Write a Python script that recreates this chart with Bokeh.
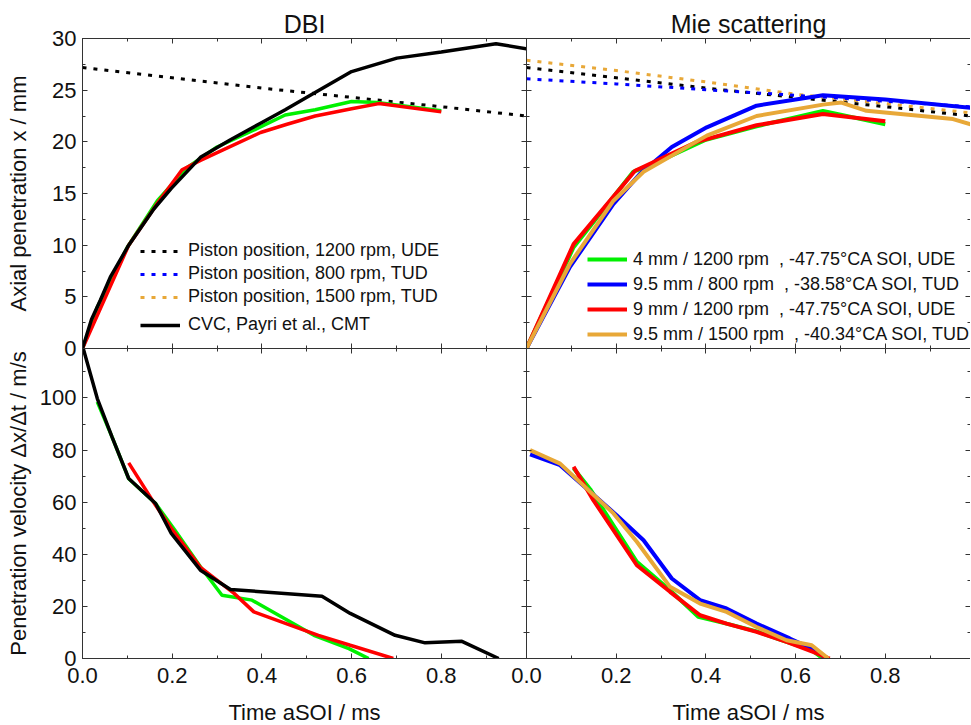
from bokeh.plotting import figure
from bokeh.models import (LinearAxis, SingleIntervalTicker, Legend, LegendItem,
                          Range1d, CustomJSTickFormatter, NumeralTickFormatter)
from bokeh.layouts import row, column
from bokeh.embed import file_html
from bokeh.resources import INLINE

FONT = "Liberation Sans"
AX = "#333333"
TXT = "#111111"
GREEN = "#00F000"
BLUE = "#0000FF"
RED = "#FF0000"
ORANGE = "#E8A838"
BLACK = "#000000"

# ---------------- data ----------------
X_END = 0.99
Y_PEN_END = 30
Y_VEL_END = 119

# piston positions (shared)
pist_1200_t = [0, 0.2, 0.4, 0.6, 0.8, 0.99]
pist_1200_x = [27.2, 26.2, 25.2, 24.3, 23.4, 22.5]
pist_800_t = [0, 0.2, 0.417, 0.6, 0.99]
pist_800_x = [26.1, 25.6, 25.0, 24.5, 23.4]
pist_1500_t = [0, 0.2, 0.4, 0.6, 0.8, 0.99]
pist_1500_x = [27.9, 26.9, 25.8, 24.6, 23.7, 22.8]

# DBI penetration
dbi_cvc_t = [0, 0.02, 0.04, 0.062, 0.103, 0.159, 0.198, 0.263, 0.33, 0.397, 0.452, 0.508, 0.6, 0.701, 0.8, 0.922, 0.99]
dbi_cvc_x = [0, 2.8, 4.7, 6.9, 10.0, 13.5, 15.5, 18.5, 20.2, 21.8, 23.1, 24.5, 26.8, 28.1, 28.7, 29.5, 29.0]
dbi_g_t = [0, 0.033, 0.1, 0.167, 0.233, 0.3, 0.38, 0.452, 0.519, 0.6, 0.657, 0.8]
dbi_g_x = [0, 4.0, 9.8, 14.3, 17.5, 19.5, 21.1, 22.6, 23.1, 23.9, 23.8, 23.0]
dbi_r_t = [0, 0.103, 0.163, 0.222, 0.263, 0.397, 0.456, 0.519, 0.6, 0.661, 0.8]
dbi_r_x = [0, 10.0, 13.8, 17.3, 18.2, 20.9, 21.7, 22.5, 23.2, 23.7, 22.9]

# DBI velocity
dbiv_cvc_t = [0, 0.033, 0.066, 0.103, 0.163, 0.198, 0.263, 0.33, 0.534, 0.597, 0.697, 0.764, 0.846, 0.928]
dbiv_cvc_v = [120, 99.8, 85, 69.1, 59.5, 48, 33.9, 26.5, 23.9, 17.3, 8.9, 6.0, 6.6, 0]
dbiv_g_t = [0.033, 0.066, 0.103, 0.163, 0.205, 0.263, 0.311, 0.378, 0.516, 0.594, 0.638]
dbiv_g_v = [98.5, 85, 69.0, 59.5, 49.5, 35.2, 24.3, 22.4, 8.9, 3.8, 0]
dbiv_r_t = [0.103, 0.163, 0.198, 0.263, 0.338, 0.382, 0.526, 0.597, 0.693]
dbiv_r_v = [75.1, 58.8, 50, 35, 25, 17.9, 8.9, 5.1, 0]

# Mie penetration
mie_g_t = [0, 0.105, 0.238, 0.3, 0.4, 0.513, 0.661, 0.8]
mie_g_x = [0, 9.8, 17.1, 18.2, 20.2, 21.5, 23.0, 21.7]
mie_b_t = [0, 0.097, 0.194, 0.253, 0.324, 0.402, 0.513, 0.661, 0.8, 0.99]
mie_b_x = [0, 7.9, 14.0, 16.9, 19.5, 21.4, 23.5, 24.5, 24.1, 23.3]
mie_r_t = [0, 0.105, 0.242, 0.38, 0.513, 0.661, 0.8]
mie_r_x = [0, 10.1, 17.2, 20.0, 21.6, 22.7, 22.0]
mie_o_t = [0, 0.097, 0.194, 0.261, 0.402, 0.513, 0.661, 0.702, 0.758, 0.951, 0.99]
mie_o_x = [0, 8.2, 14.3, 17.1, 20.6, 22.5, 23.6, 23.8, 23.0, 22.2, 21.7]

# Mie velocity
miev_g_t = [0.105, 0.142, 0.246, 0.32, 0.383, 0.446, 0.513, 0.58, 0.636, 0.661]
miev_g_v = [73.0, 65.0, 37.1, 26.2, 16.0, 13.4, 10.4, 6.4, 3.2, 0]
miev_b_t = [0.008, 0.075, 0.142, 0.201, 0.261, 0.324, 0.387, 0.446, 0.513, 0.587, 0.636, 0.669]
miev_b_v = [78.4, 74.2, 64, 55.0, 45.4, 30.7, 22.4, 19.2, 13.4, 7.7, 3.8, 0]
miev_r_t = [0.105, 0.149, 0.246, 0.32, 0.387, 0.446, 0.513, 0.58, 0.639, 0.676]
miev_r_v = [73.6, 60.8, 35.8, 25.6, 16.6, 13.4, 10.2, 6.4, 2.5, 0]
miev_o_t = [0.008, 0.075, 0.142, 0.194, 0.246, 0.32, 0.387, 0.446, 0.513, 0.58, 0.636, 0.673]
miev_o_v = [80.0, 74.8, 64, 55.7, 44.8, 27.5, 21.1, 17.9, 12.1, 7.0, 5.1, 0]

legend_left = ["Piston position, 1200 rpm, UDE", "Piston position, 800 rpm, TUD",
               "Piston position, 1500 rpm, TUD", "CVC, Payri et al., CMT"]
legend_right = ["4 mm / 1200 rpm\u00a0\u00a0, -47.75\u00b0CA SOI, UDE",
                "9.5 mm / 800 rpm\u00a0\u00a0, -38.58\u00b0CA SOI, TUD",
                "9 mm / 1200 rpm\u00a0\u00a0, -47.75\u00b0CA SOI, UDE",
                "9.5 mm / 1500 rpm\u00a0\u00a0, -40.34\u00b0CA SOI, TUD"]

DOT = "4 7"
OVERLAP = 14


def ticks_in(ax):
    ax.major_tick_in = 5
    ax.major_tick_out = 0
    ax.minor_tick_in = 3
    ax.minor_tick_out = 0
    ax.axis_line_color = AX
    ax.major_tick_line_color = AX
    ax.minor_tick_line_color = AX


def blank(ax):
    ax.formatter = CustomJSTickFormatter(code="return ''")
    ax.major_label_text_font_size = "0px"
    ax.major_label_standoff = 0
    ax.axis_label = None


def labeled(ax, standoff):
    ax.major_label_text_font = FONT
    ax.major_label_text_font_size = "22px"
    ax.major_label_text_color = TXT
    ax.major_label_standoff = standoff


def make_fig(y_end, y_int, show_x, show_y, **kw):
    p = figure(frame_width=444, frame_height=310,
               x_range=Range1d(0, X_END), y_range=Range1d(0, y_end),
               output_backend="svg", toolbar_location=None, **kw)
    p.grid.visible = False
    p.outline_line_color = None
    p.background_fill_color = "white"
    xb = p.xaxis[0]
    yl = p.yaxis[0]
    xb.ticker = SingleIntervalTicker(interval=0.2, num_minor_ticks=2)
    yl.ticker = SingleIntervalTicker(interval=y_int, num_minor_ticks=2)
    xt = LinearAxis(ticker=SingleIntervalTicker(interval=0.2, num_minor_ticks=2))
    yr = LinearAxis(ticker=SingleIntervalTicker(interval=y_int, num_minor_ticks=2))
    p.add_layout(xt, "above")
    p.add_layout(yr, "right")
    for ax in (xb, yl, xt, yr):
        ticks_in(ax)
    blank(xt)
    blank(yr)
    if show_x:
        labeled(xb, 9)
        xb.formatter = NumeralTickFormatter(format="0.0")
        xb.axis_label = "Time aSOI / ms"
        xb.axis_label_text_font = FONT
        xb.axis_label_text_font_size = "22px"
        xb.axis_label_text_font_style = "normal"
        xb.axis_label_text_color = TXT
        xb.axis_label_standoff = 14
    else:
        blank(xb)
    if show_y:
        labeled(yl, 6)
        yl.axis_label_text_font = FONT
        yl.axis_label_text_font_size = "22px"
        yl.axis_label_text_font_style = "normal"
        yl.axis_label_text_color = TXT
    else:
        blank(yl)
    return p


def style_title(p, text):
    p.title.text = text
    p.title.align = "center"
    p.title.text_font = FONT
    p.title.text_font_size = "25px"
    p.title.text_font_style = "normal"
    p.title.text_color = TXT
    p.title.standoff = 2


def make_legend(items, loc, lh, sp, standoff):
    lg = Legend(items=items, location=loc)
    lg.label_text_font = FONT
    lg.label_text_font_size = "18px"
    lg.label_text_color = TXT
    lg.glyph_width = 40
    lg.glyph_height = lh
    lg.label_height = lh
    lg.spacing = sp
    lg.padding = 0
    lg.margin = 0
    lg.label_standoff = standoff
    lg.border_line_color = None
    lg.background_fill_alpha = 0
    lg.inactive_fill_alpha = 0
    return lg


# ---------------- top-left: DBI penetration ----------------
p1 = make_fig(Y_PEN_END, 5, False, True, min_border_left=82, min_border_right=0,
              min_border_top=38, min_border_bottom=OVERLAP)
p1.yaxis[0].axis_label = "Axial penetration x / mm"
p1.yaxis[0].axis_label_standoff = 18
style_title(p1, "DBI")

r_pb = p1.line(pist_1200_t, pist_1200_x, color=BLACK, line_width=3, line_dash=DOT)
# legend proxies: same piston data, hidden in this panel
r_pbl = p1.line(pist_800_t, pist_800_x, color=BLUE, line_width=3, line_dash=DOT, visible=False)
r_po = p1.line(pist_1500_t, pist_1500_x, color=ORANGE, line_width=3, line_dash=DOT, visible=False)
p1.line(dbi_g_t, dbi_g_x, color=GREEN, line_width=3.5)
p1.line(dbi_r_t, dbi_r_x, color=RED, line_width=3.5)
r_cvc = p1.line(dbi_cvc_t, dbi_cvc_x, color=BLACK, line_width=3.5)

leg1 = make_legend([LegendItem(label=legend_left[0], renderers=[r_pb]),
                    LegendItem(label=legend_left[1], renderers=[r_pbl]),
                    LegendItem(label=legend_left[2], renderers=[r_po])],
                   (58, 41), 20, 2, 8)
leg2 = make_legend([LegendItem(label=legend_left[3], renderers=[r_cvc])],
                   (58, 13), 20, 2, 8)
p1.add_layout(leg1, "center")
p1.add_layout(leg2, "center")

# ---------------- top-right: Mie penetration ----------------
p2 = make_fig(Y_PEN_END, 5, False, False, min_border_left=20, min_border_right=0,
              min_border_top=38, min_border_bottom=OVERLAP, margin=(0, 0, 0, -20))
p2.border_fill_color = None
style_title(p2, "Mie scattering")
p2.line(pist_1500_t, pist_1500_x, color=ORANGE, line_width=3, line_dash=DOT)
p2.line(pist_1200_t, pist_1200_x, color=BLACK, line_width=3, line_dash=DOT)
p2.line(pist_800_t, pist_800_x, color=BLUE, line_width=3, line_dash=DOT)
rg = p2.line(mie_g_t, mie_g_x, color=GREEN, line_width=4)
rb = p2.line(mie_b_t, mie_b_x, color=BLUE, line_width=4)
rr = p2.line(mie_r_t, mie_r_x, color=RED, line_width=4)
ro = p2.line(mie_o_t, mie_o_x, color=ORANGE, line_width=4)
leg3 = make_legend([LegendItem(label=legend_right[0], renderers=[rg]),
                    LegendItem(label=legend_right[1], renderers=[rb]),
                    LegendItem(label=legend_right[2], renderers=[rr]),
                    LegendItem(label=legend_right[3], renderers=[ro])],
                   (61, 3), 22, 3, 6)
p2.add_layout(leg3, "center")

# ---------------- bottom-left: DBI velocity ----------------
p3 = make_fig(Y_VEL_END, 20, True, True, min_border_left=82, min_border_right=0,
              min_border_top=0, min_border_bottom=60)
p3.border_fill_color = None
p3.yaxis[0].axis_label = "Penetration velocity \u0394x/\u0394t / m/s"
p3.yaxis[0].axis_label_standoff = 6
p3.line(dbiv_g_t, dbiv_g_v, color=GREEN, line_width=3.5)
p3.line(dbiv_r_t, dbiv_r_v, color=RED, line_width=3.5)
p3.line(dbiv_cvc_t, dbiv_cvc_v, color=BLACK, line_width=3.5)

# ---------------- bottom-right: Mie velocity ----------------
p4 = make_fig(Y_VEL_END, 20, True, False, min_border_left=20, min_border_right=0,
              min_border_top=0, min_border_bottom=60, margin=(0, 0, 0, -20))
p4.border_fill_color = None
p4.line(miev_g_t, miev_g_v, color=GREEN, line_width=4)
p4.line(miev_b_t, miev_b_v, color=BLUE, line_width=4)
p4.line(miev_r_t, miev_r_v, color=RED, line_width=4)
p4.line(miev_o_t, miev_o_v, color=ORANGE, line_width=4)

top = row(p1, p2)
bottom = row(p3, p4, margin=(-OVERLAP, 0, 0, 0))
layout = column(top, bottom)

open("out.html", "w").write(file_html(layout, INLINE))
